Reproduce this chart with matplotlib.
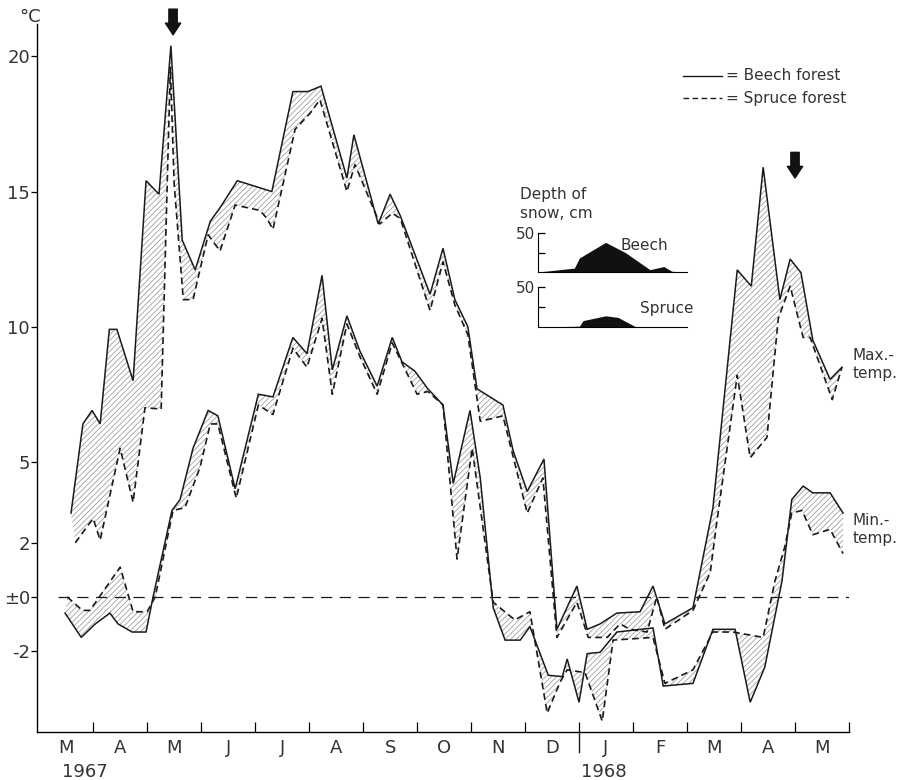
import matplotlib.pyplot as plt
import numpy as np

# x = months since 1 March 1967, y = air temperature in degC
MONTHS = ['M', 'A', 'M', 'J', 'J', 'A', 'S', 'O', 'N', 'D', 'J', 'F', 'M', 'A', 'M']

max_beech_x = [0.59, 0.81, 0.98, 1.13, 1.30, 1.44, 1.74, 1.98, 2.22, 2.44, 2.65, 2.89, 3.17, 3.35,
               3.67, 4.31, 4.70, 4.98, 5.22, 5.70, 5.83, 6.28, 6.50, 6.69, 7.24, 7.48, 7.70, 7.94,
               8.11, 8.59, 8.78, 9.04, 9.35, 9.59, 9.96, 10.15, 10.39, 10.70, 11.13, 11.37, 11.59,
               12.11, 12.48, 12.93, 13.19, 13.41, 13.72, 13.91, 14.11, 14.33, 14.65, 14.87]
max_beech = [3.1, 6.4, 6.9, 6.4, 9.9, 9.9, 8.0, 15.4, 14.9, 20.4, 13.2, 12.1, 13.9, 14.4,
             15.4, 15.0, 18.7, 18.7, 18.9, 15.5, 17.1, 13.8, 14.9, 14.1, 11.2, 12.9, 11.0, 10.0,
             7.7, 7.1, 5.4, 3.9, 5.1, -1.2, 0.4, -1.2, -1.0, -0.6, -0.55, 0.4, -1.0,
             -0.4, 3.3, 12.1, 11.5, 15.9, 11.0, 12.5, 12.0, 9.5, 8.05, 8.5]

max_spruce_x = [0.67, 0.85, 1.00, 1.13, 1.50, 1.74, 1.96, 2.26, 2.43, 2.50, 2.67, 2.85, 3.13, 3.35,
                3.63, 4.09, 4.22, 4.33, 4.74, 5.02, 5.20, 5.70, 5.85, 6.31, 6.54, 6.69, 7.24, 7.48,
                7.70, 7.94, 8.17, 8.39, 8.59, 9.04, 9.33, 9.59, 9.96, 10.17, 10.52, 10.76, 10.94,
                11.26, 11.44, 11.59, 12.11, 12.43, 12.54, 12.93, 13.17, 13.48, 13.69, 13.91, 14.15,
                14.28, 14.69, 14.87]
max_spruce = [2.0, 2.5, 2.9, 2.1, 5.5, 3.5, 7.0, 6.95, 19.6, 15.3, 11.0, 11.0, 13.4, 12.8,
              14.5, 14.3, 14.0, 13.6, 17.3, 17.9, 18.4, 15.0, 16.0, 13.8, 14.2, 14.0, 10.6, 12.4,
              10.8, 9.7, 6.5, 6.6, 6.7, 3.1, 4.4, -1.5, -0.2, -1.5, -1.5, -1.0, -1.2,
              -1.3, 0.0, -1.2, -0.5, 0.9, 2.6, 8.2, 5.15, 5.9, 10.3, 11.5, 9.6,
              9.6, 7.3, 8.5]

min_beech_x = [0.48, 0.78, 1.04, 1.31, 1.46, 1.72, 1.98, 2.11, 2.46, 2.61, 2.85, 3.13, 3.31, 3.63,
               4.06, 4.33, 4.70, 4.96, 5.24, 5.43, 5.70, 5.94, 6.26, 6.54, 6.72, 6.96, 7.20, 7.48,
               7.67, 7.98, 8.17, 8.41, 8.63, 8.91, 9.09, 9.43, 9.69, 9.78, 10.00, 10.15, 10.39,
               10.70, 11.37, 11.56, 12.11, 12.48, 12.89, 13.17, 13.44, 13.76, 13.94, 14.15, 14.33,
               14.65, 14.89]
min_beech = [-0.6, -1.5, -1.0, -0.6, -1.0, -1.3, -1.3, 0.0, 3.2, 3.6, 5.5, 6.9, 6.7, 4.0,
             7.5, 7.4, 9.6, 9.0, 11.9, 8.4, 10.4, 9.1, 7.8, 9.6, 8.7, 8.35, 7.7, 7.1,
             4.2, 6.9, 4.4, -0.4, -1.6, -1.6, -1.1, -2.9, -2.95, -2.3, -3.9, -2.1, -2.05,
             -1.3, -1.15, -3.3, -3.2, -1.2, -1.2, -3.9, -2.6, 0.6, 3.6, 4.1, 3.85,
             3.85, 3.1]

min_spruce_x = [0.52, 0.80, 0.94, 1.50, 1.74, 2.00, 2.15, 2.48, 2.70, 2.98, 3.17, 3.31, 3.65, 4.06,
                4.33, 4.70, 4.96, 5.24, 5.43, 5.70, 5.94, 6.26, 6.54, 7.00, 7.20, 7.48, 7.74, 8.02,
                8.41, 8.81, 9.09, 9.41, 9.65, 9.78, 10.11, 10.43, 10.63, 11.37, 11.59, 12.11, 12.48,
                12.85, 13.41, 13.63, 13.81, 13.94, 14.13, 14.33, 14.65, 14.89]
min_spruce = [0.0, -0.5, -0.5, 1.1, -0.55, -0.55, 0.0, 3.2, 3.3, 4.8, 6.4, 6.4, 3.65, 7.1,
              6.75, 9.2, 8.5, 10.3, 7.5, 10.1, 8.9, 7.5, 9.4, 7.5, 7.6, 7.1, 1.4, 5.5,
              -0.2, -0.85, -0.55, -4.3, -3.15, -2.7, -2.8, -4.6, -1.6, -1.5, -3.2, -2.7, -1.3,
              -1.3, -1.5, 0.6, 1.85, 3.1, 3.2, 2.3, 2.5, 1.6]

# snow depth (cm) for the small panels, x in weeks
snow_beech_x = [0, 5.0, 5.7, 9.3, 12.0, 15.4, 17.3, 18.4, 20.0]
snow_beech = [0, 5, 18, 38, 25, 3, 7, 1, 0]
snow_spruce_x = [0, 5.7, 6.2, 9.3, 11.0, 13.5, 20.0]
snow_spruce = [0, 1, 8, 14, 12, 0, 0]

INK = '#1a1a1a'
TXT = '#333333'
W, H = 899, 780

plt.rcParams['font.family'] = ['DejaVu Sans']
plt.rcParams['hatch.linewidth'] = 0.55

fig = plt.figure(figsize=(W / 100, H / 100), dpi=100)
ax = fig.add_axes([37 / W, 1 - 732 / H, (849 - 37) / W, (732 - 24) / H])
ax.set_xlim(-0.04, 15.0)
ax.set_ylim(-5, 21.2)


def band(xa, ya, xb, yb):
    px = np.concatenate([xa, xb[::-1]])
    py = np.concatenate([ya, yb[::-1]])
    ax.fill(px, py, facecolor='none', edgecolor='#999999', hatch='//////', linewidth=0)


band(max_beech_x, max_beech, max_spruce_x, max_spruce)
band(min_beech_x, min_beech, min_spruce_x, min_spruce)

for xs, ys in [(max_beech_x, max_beech), (min_beech_x, min_beech)]:
    ax.plot(xs, ys, color=INK, lw=1.1, solid_joinstyle='miter')
for xs, ys in [(max_spruce_x, max_spruce), (min_spruce_x, min_spruce)]:
    ax.plot(xs, ys, color=INK, lw=1.2, dashes=(4, 2.5))

# zero line
ax.plot([0.35, 15.0], [0, 0], color=INK, lw=0.9, dashes=(9, 6))

# axes
for s in ['top', 'right']:
    ax.spines[s].set_visible(False)
ax.spines['left'].set_linewidth(1.0)
ax.spines['bottom'].set_linewidth(1.0)

ax.set_yticks([-2, 0, 2, 5, 10, 15, 20])
ax.set_yticklabels(['-2', '\u00b10', '2', '5', '10', '15', '20'], fontsize=13, color=TXT)
ax.tick_params(axis='y', direction='out', length=4, width=0.9, pad=1)
ax.text(-0.17, 21.45, '\u00b0C', fontsize=13, color=TXT, ha='center', va='center', clip_on=False)

ax.set_xticks(np.arange(1, 16))
ax.set_xticklabels([])
ax.tick_params(axis='x', direction='in', length=7, width=0.9)
ax.plot([10, 10], [-5, -5.75], color=INK, lw=1.0, clip_on=False)
for i, m in enumerate(MONTHS):
    ax.text(i + 0.5, -5.25, m, fontsize=13, color=TXT, ha='center', va='top')
ax.text(0.85, -6.15, '1967', fontsize=13, color=TXT, ha='center', va='top')
ax.text(10.45, -6.15, '1968', fontsize=13, color=TXT, ha='center', va='top')

# arrows
for xa, ytop, ybot in [(2.48, 21.75, 20.8), (14.0, 16.45, 15.5)]:
    ax.annotate('', xy=(xa, ybot), xytext=(xa, ytop), annotation_clip=False,
                arrowprops=dict(arrowstyle='simple,head_length=0.42,head_width=0.55,tail_width=0.3',
                                mutation_scale=20, color='#111', shrinkA=0, shrinkB=0))

ax.text(15.07, 8.6, 'Max.-\ntemp.', fontsize=11, color=TXT, ha='left', va='center',
        linespacing=1.3, clip_on=False)
ax.text(15.07, 2.5, 'Min.-\ntemp.', fontsize=11, color=TXT, ha='left', va='center',
        linespacing=1.3, clip_on=False)

# legend
fig.add_artist(plt.Line2D([683 / W, 722 / W], [1 - 76 / H] * 2, color=INK, lw=1.0))
fig.add_artist(plt.Line2D([683 / W, 722 / W], [1 - 98 / H] * 2, color=INK, lw=1.0, dashes=(4, 2.5)))
fig.text(726 / W, 1 - 76 / H, '= Beech forest', fontsize=11, color=TXT, va='center')
fig.text(726 / W, 1 - 98 / H, '= Spruce forest', fontsize=11, color=TXT, va='center')

# snow depth panels
fig.text(520 / W, 1 - 204 / H, 'Depth of\nsnow, cm', fontsize=11, color=TXT, va='center',
         linespacing=1.35)
for (xs, ys, name, top, bottom, tx, ty) in [
        (snow_beech_x, snow_beech, 'Beech', 233, 272, 620, 246),
        (snow_spruce_x, snow_spruce, 'Spruce', 287, 327, 640, 309)]:
    sa = fig.add_axes([538 / W, 1 - bottom / H, (687 - 538) / W, (bottom - top) / H])
    sa.patch.set_alpha(0)
    sa.fill_between(xs, ys, 0, color='#111', lw=0)
    sa.set_xlim(0, 20.5)
    sa.set_ylim(0, 50)
    for s in ['top', 'right']:
        sa.spines[s].set_visible(False)
    sa.set_xticks([])
    sa.set_yticks([25, 50])
    sa.set_yticklabels(['', '50'], fontsize=11, color=TXT)
    sa.tick_params(axis='y', direction='in', length=5, width=0.9, pad=2)
    fig.text(tx / W, 1 - ty / H, name, fontsize=11, color=TXT, va='center')

fig.savefig('out.png', dpi=100, facecolor='white')
